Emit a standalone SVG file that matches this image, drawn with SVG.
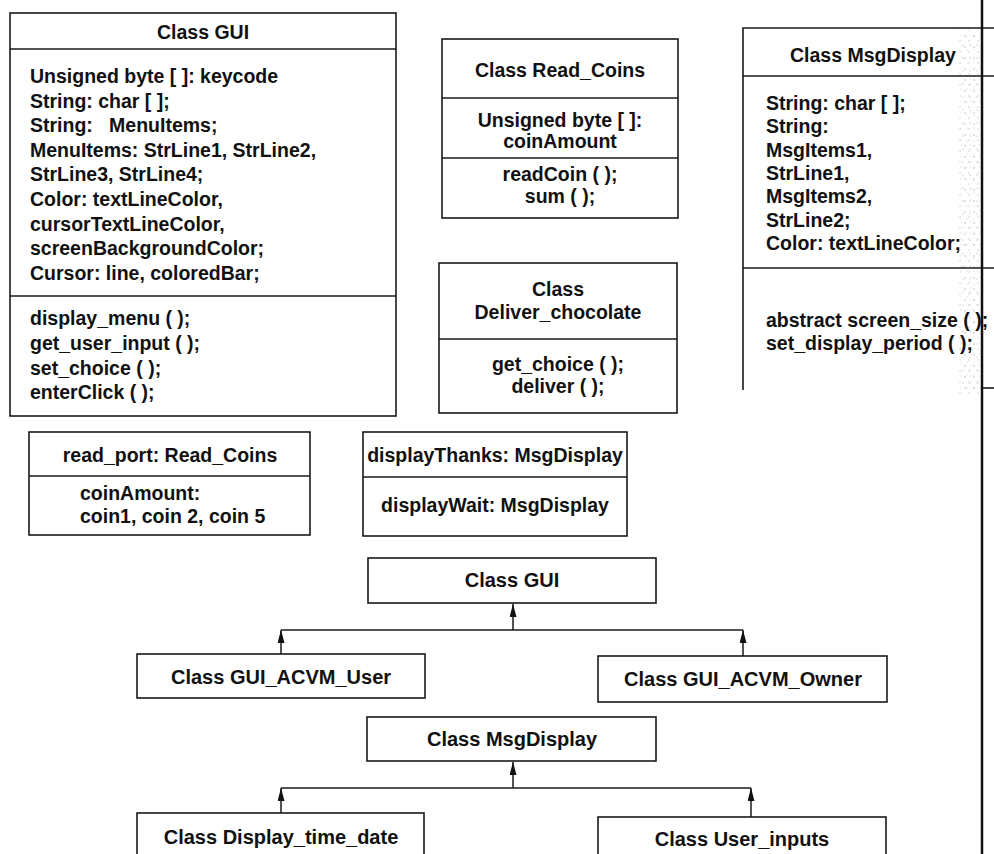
<svg xmlns="http://www.w3.org/2000/svg" width="994" height="854" viewBox="0 0 994 854">
  <defs>
    <style>
      .box { fill: #fff; stroke: #1a1a1a; stroke-width: 1.6; }
      .rule { stroke: #1a1a1a; stroke-width: 1.6; fill: none; }
      .t { font-family: "Liberation Sans", Arial, sans-serif; font-weight: bold; font-size: 19.5px; fill: #111; }
      .c { text-anchor: middle; }
      .h { font-family: "Liberation Sans", Arial, sans-serif; font-weight: bold; font-size: 20px; fill: #111; text-anchor: middle; }
      .wire { stroke: #1a1a1a; stroke-width: 1.5; fill: none; }
      .gutter { stroke: #111; stroke-width: 2.5; }
    </style>
    <!-- filled arrowhead, tip at the end of the line -->
    <marker id="up" viewBox="0 0 13 7" refX="13" refY="3.5" markerWidth="13" markerHeight="7" markerUnits="userSpaceOnUse" orient="auto">
      <path d="M0,0 L13,3.5 L0,7 Z" fill="#111"/>
    </marker>
    <pattern id="speckle" width="9" height="11" patternUnits="userSpaceOnUse">
      <circle cx="2" cy="3" r="0.8" fill="#888"/>
      <circle cx="6" cy="8" r="0.7" fill="#999"/>
      <circle cx="7.5" cy="2" r="0.5" fill="#aaa"/>
    </pattern>
    <pattern id="speckle2" width="7" height="13" patternUnits="userSpaceOnUse">
      <circle cx="4" cy="6" r="0.6" fill="#777"/>
      <circle cx="1" cy="11" r="0.5" fill="#999"/>
    </pattern>
  </defs>

  <rect width="994" height="854" fill="#fff"/>

  <!-- Class GUI (full definition) -->
  <g id="class-gui">
    <rect class="box" x="10" y="13" width="386" height="403"/>
    <line class="rule" x1="10" y1="49" x2="396" y2="49"/>
    <line class="rule" x1="10" y1="296" x2="396" y2="296"/>
    <text class="t c" x="203" y="39">Class GUI</text>
    <text class="t" x="30" y="83">Unsigned byte [ ]: keycode</text>
    <text class="t" x="30" y="107.6">String: char [ ];</text>
    <text class="t" x="30" y="132.2" xml:space="preserve">String:   MenuItems;</text>
    <text class="t" x="30" y="156.8">MenuItems: StrLine1, StrLine2,</text>
    <text class="t" x="30" y="181.4">StrLine3, StrLine4;</text>
    <text class="t" x="30" y="206">Color: textLineColor,</text>
    <text class="t" x="30" y="230.6">cursorTextLineColor,</text>
    <text class="t" x="30" y="255.2">screenBackgroundColor;</text>
    <text class="t" x="30" y="279.8">Cursor: line, coloredBar;</text>
    <text class="t" x="30" y="325">display_menu ( );</text>
    <text class="t" x="30" y="350">get_user_input ( );</text>
    <text class="t" x="30" y="375">set_choice ( );</text>
    <text class="t" x="30" y="399">enterClick ( );</text>
  </g>

  <!-- Class Read_Coins -->
  <g id="class-read-coins">
    <rect class="box" x="442" y="39" width="236" height="179"/>
    <line class="rule" x1="442" y1="98" x2="678" y2="98"/>
    <line class="rule" x1="442" y1="158" x2="678" y2="158"/>
    <text class="t c" x="560" y="77">Class Read_Coins</text>
    <text class="t c" x="560" y="127">Unsigned byte [ ]:</text>
    <text class="t c" x="560" y="148">coinAmount</text>
    <text class="t c" x="560" y="181">readCoin ( );</text>
    <text class="t c" x="560" y="203">sum ( );</text>
  </g>

  <!-- Class Deliver_chocolate -->
  <g id="class-deliver-chocolate">
    <rect class="box" x="439" y="263" width="238" height="150"/>
    <line class="rule" x1="439" y1="339" x2="677" y2="339"/>
    <text class="t c" x="558" y="296">Class</text>
    <text class="t c" x="558" y="319">Deliver_chocolate</text>
    <text class="t c" x="558" y="371">get_choice ( );</text>
    <text class="t c" x="558" y="393">deliver ( );</text>
  </g>

  <!-- Class MsgDisplay (runs off the right edge of the page) -->
  <g id="class-msgdisplay">
    <rect x="957" y="30" width="24" height="365" fill="url(#speckle)" opacity="0.6"/>
    <rect x="960" y="35" width="20" height="360" fill="url(#speckle2)" opacity="0.6"/>
    <path class="rule" d="M994,28 H743 V390"/>
    <line class="rule" x1="743" y1="76" x2="994" y2="76"/>
    <line class="rule" x1="743" y1="268" x2="994" y2="268"/>
    <line class="rule" x1="982" y1="388" x2="994" y2="388"/>
    <text class="t" x="790" y="62">Class MsgDisplay</text>
    <text class="t" x="766" y="110">String: char [ ];</text>
    <text class="t" x="766" y="133.3">String:</text>
    <text class="t" x="766" y="156.6">MsgItems1,</text>
    <text class="t" x="766" y="180">StrLine1,</text>
    <text class="t" x="766" y="203.3">MsgItems2,</text>
    <text class="t" x="766" y="226.6">StrLine2;</text>
    <text class="t" x="766" y="250">Color: textLineColor;</text>
    <text class="t" x="766" y="327">abstract screen_size ( );</text>
    <text class="t" x="766" y="350">set_display_period ( );</text>
  </g>

  <!-- page gutter line -->
  <line class="gutter" x1="982" y1="0" x2="982" y2="854"/>

  <!-- object read_port -->
  <g id="obj-read-port">
    <rect class="box" x="29" y="432" width="281" height="103"/>
    <line class="rule" x1="29" y1="476" x2="310" y2="476"/>
    <text class="t c" x="170" y="462">read_port: Read_Coins</text>
    <text class="t" x="80" y="500">coinAmount:</text>
    <text class="t" x="80" y="523">coin1, coin 2, coin 5</text>
  </g>

  <!-- objects displayThanks / displayWait -->
  <g id="obj-display-thanks">
    <rect class="box" x="363" y="432" width="264" height="104"/>
    <line class="rule" x1="363" y1="477" x2="627" y2="477"/>
    <text class="t c" x="495" y="462">displayThanks: MsgDisplay</text>
    <text class="t c" x="495" y="512">displayWait: MsgDisplay</text>
  </g>

  <!-- inheritance: GUI -->
  <g id="h-gui">
    <rect class="box" x="368" y="558" width="288" height="45"/>
    <text class="h" x="512" y="587">Class GUI</text>
  </g>
  <g id="h-gui-acvm-user">
    <rect class="box" x="137" y="654" width="288" height="44"/>
    <text class="h" x="281" y="684">Class GUI_ACVM_User</text>
  </g>
  <g id="h-gui-acvm-owner">
    <rect class="box" x="598" y="656" width="289" height="46"/>
    <text class="h" x="743" y="686">Class GUI_ACVM_Owner</text>
  </g>

  <!-- inheritance: MsgDisplay -->
  <g id="h-msgdisplay">
    <rect class="box" x="367" y="717" width="289" height="44"/>
    <text class="h" x="512" y="746">Class MsgDisplay</text>
  </g>
  <g id="h-display-time-date">
    <rect class="box" x="137" y="813" width="287" height="60"/>
    <text class="h" x="281" y="844">Class Display_time_date</text>
  </g>
  <g id="h-user-inputs">
    <rect class="box" x="598" y="817" width="288" height="60"/>
    <text class="h" x="742" y="846">Class User_inputs</text>
  </g>

  <!-- connectors -->
  <g id="connectors">
    <line class="wire" x1="281" y1="630" x2="743" y2="630"/>
    <line class="wire" x1="513" y1="630" x2="513" y2="604" marker-end="url(#up)"/>
    <line class="wire" x1="281" y1="654" x2="281" y2="630" marker-end="url(#up)"/>
    <line class="wire" x1="743" y1="656" x2="743" y2="630" marker-end="url(#up)"/>

    <line class="wire" x1="281" y1="788" x2="751" y2="788"/>
    <line class="wire" x1="513" y1="788" x2="513" y2="762" marker-end="url(#up)"/>
    <line class="wire" x1="281" y1="813" x2="281" y2="788" marker-end="url(#up)"/>
    <line class="wire" x1="751" y1="817" x2="751" y2="788" marker-end="url(#up)"/>
  </g>
</svg>
